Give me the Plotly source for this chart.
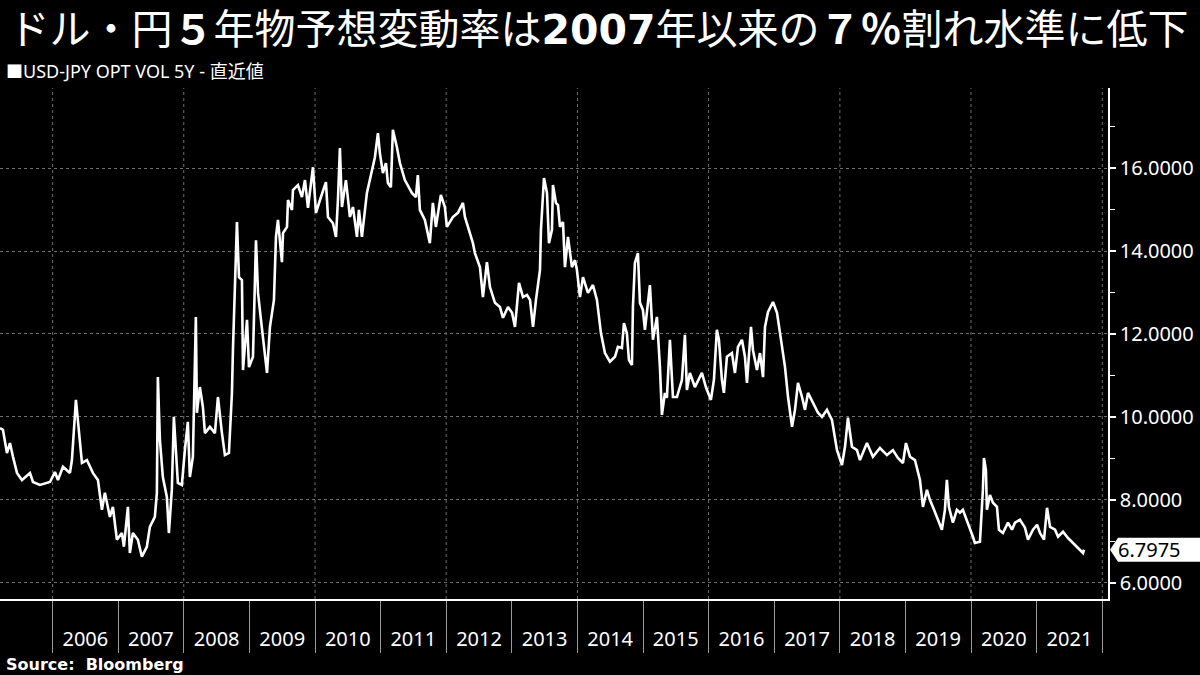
import datetime as dt
import plotly.graph_objects as go

# ---------------- data ----------------
# time as decimal years, value = USD-JPY 5Y option implied volatility
t_year = [
    2005.197, 2005.242, 2005.303, 2005.349, 2005.395, 2005.456, 2005.532, 2005.654, 2005.700, 2005.806,
    2005.959, 2006.035, 2006.081, 2006.157, 2006.264, 2006.294, 2006.355, 2006.386, 2006.447, 2006.523,
    2006.569, 2006.614, 2006.691, 2006.752, 2006.797, 2006.873, 2006.919, 2006.980, 2007.056, 2007.087,
    2007.148, 2007.178, 2007.224, 2007.300, 2007.361, 2007.437, 2007.483, 2007.559, 2007.590, 2007.605,
    2007.636, 2007.681, 2007.742, 2007.773, 2007.818, 2007.849, 2007.910, 2007.971, 2008.017, 2008.062,
    2008.093, 2008.139, 2008.184, 2008.200, 2008.245, 2008.291, 2008.322, 2008.398, 2008.474, 2008.520,
    2008.581, 2008.626, 2008.687, 2008.733, 2008.748, 2008.779, 2008.809, 2008.840, 2008.885, 2008.901,
    2008.962, 2008.992, 2009.053, 2009.099, 2009.130, 2009.175, 2009.267, 2009.312, 2009.373, 2009.404,
    2009.434, 2009.495, 2009.511, 2009.572, 2009.587, 2009.648, 2009.663, 2009.739, 2009.800, 2009.846,
    2009.892, 2009.968, 2010.014,
    2010.075, 2010.120, 2010.166, 2010.197, 2010.273, 2010.319, 2010.349, 2010.379, 2010.410, 2010.471,
    2010.532, 2010.578, 2010.639, 2010.669, 2010.715, 2010.791, 2010.867, 2010.913, 2010.959, 2010.989,
    2011.035, 2011.081, 2011.111, 2011.157, 2011.187, 2011.248, 2011.294, 2011.370, 2011.477, 2011.538,
    2011.568, 2011.599, 2011.675, 2011.751, 2011.797, 2011.843, 2011.919, 2011.980, 2012.011, 2012.102,
    2012.178, 2012.255, 2012.285, 2012.361, 2012.407,
    2012.437, 2012.514, 2012.559, 2012.620, 2012.666, 2012.742, 2012.818, 2012.864, 2012.940, 2013.002,
    2013.047, 2013.108, 2013.169, 2013.230, 2013.276, 2013.322, 2013.367, 2013.428, 2013.443, 2013.489,
    2013.535, 2013.565, 2013.611, 2013.626, 2013.672, 2013.703, 2013.733, 2013.779, 2013.809, 2013.855,
    2013.916, 2013.962, 2013.992, 2014.038, 2014.084, 2014.160, 2014.236, 2014.297, 2014.358, 2014.419,
    2014.495, 2014.572, 2014.617, 2014.678, 2014.709, 2014.754, 2014.785, 2014.831, 2014.846,
    2014.876, 2014.922, 2014.953, 2014.998, 2015.029, 2015.075, 2015.105, 2015.151, 2015.212, 2015.258,
    2015.288, 2015.334, 2015.364, 2015.410, 2015.456, 2015.517, 2015.593, 2015.639, 2015.669, 2015.715,
    2015.791, 2015.898, 2015.959, 2016.035, 2016.081, 2016.126, 2016.157, 2016.203, 2016.233, 2016.279,
    2016.355, 2016.401, 2016.447, 2016.507, 2016.553, 2016.584, 2016.645, 2016.675, 2016.736, 2016.782,
    2016.828, 2016.858, 2016.904, 2016.980, 2017.041, 2017.087, 2017.163, 2017.209, 2017.270,
    2017.315, 2017.361, 2017.422, 2017.468, 2017.514, 2017.590, 2017.666, 2017.727, 2017.803, 2017.879,
    2017.956, 2018.032, 2018.078, 2018.123, 2018.184, 2018.261, 2018.306, 2018.413, 2018.504, 2018.611,
    2018.718, 2018.809, 2018.885, 2018.962, 2019.008, 2019.069, 2019.145, 2019.221, 2019.267, 2019.328,
    2019.373, 2019.419, 2019.495, 2019.556, 2019.602, 2019.632, 2019.663, 2019.724, 2019.785,
    2019.831, 2019.876, 2019.953, 2020.029, 2020.059, 2020.136, 2020.181, 2020.197, 2020.227, 2020.242,
    2020.288, 2020.334, 2020.395, 2020.425, 2020.486, 2020.562, 2020.623, 2020.669, 2020.745, 2020.821,
    2020.867, 2020.943, 2021.005, 2021.050, 2021.111, 2021.157, 2021.203, 2021.279, 2021.325, 2021.401,
    2021.477, 2021.553, 2021.629, 2021.706, 2021.721,
]
vol = [
    9.73, 9.69, 9.13, 9.37, 9.04, 8.65, 8.48, 8.65, 8.43, 8.36,
    8.43, 8.67, 8.48, 8.80, 8.65, 8.96, 10.41, 9.86, 8.89, 8.96,
    8.80, 8.65, 8.48, 7.76, 8.17, 7.59, 7.83, 7.04, 7.20, 6.87,
    7.83, 6.72, 7.20, 7.04, 6.63, 6.87, 7.35, 7.59, 8.17, 10.96,
    9.45, 8.55, 8.07, 7.20, 8.24, 10.00, 8.41, 8.36, 9.20, 9.88,
    8.55, 9.04, 12.41, 10.10, 10.72, 10.24, 9.61, 9.76, 9.61, 10.48,
    9.61, 9.08, 9.13, 10.58, 11.61, 13.30, 14.70, 13.37, 13.30, 11.13,
    12.34, 11.20, 11.45, 14.26, 12.99, 12.34, 11.06, 12.17, 12.82, 14.34,
    14.75, 13.73, 14.43, 14.58, 15.23, 14.99, 15.47, 15.59, 15.30, 15.71,
    15.04, 16.02, 14.92,
    15.23, 15.47, 15.66, 14.82, 14.67, 14.34, 15.23, 16.48, 15.06, 15.71,
    14.82, 15.06, 14.34, 14.99, 14.34, 15.40, 15.95, 16.26, 16.84, 16.36,
    15.88, 16.12, 15.64, 15.54, 16.92, 16.51, 16.12, 15.71, 15.40, 15.30,
    15.83, 14.99, 14.75, 14.19, 15.16, 14.58, 15.35, 15.06, 14.58, 14.82,
    14.92, 15.16, 14.82, 14.43, 14.19,
    13.95, 13.61, 12.89, 13.73, 13.13, 12.75, 12.65, 12.39, 12.65, 12.51,
    12.17, 13.23, 12.89, 12.94, 12.82, 12.17, 12.82, 13.54, 14.51, 15.76,
    15.40, 14.19, 14.51, 15.59, 15.16, 15.11, 14.58, 14.70, 13.61, 14.34,
    13.61, 13.78, 13.54, 12.89, 13.37, 12.99, 13.18, 12.82, 12.02, 11.54,
    11.33, 11.45, 11.69, 11.66, 12.26, 12.02, 11.37, 11.25, 12.65,
    13.71, 13.95, 12.75, 12.58, 12.10, 12.75, 13.18, 11.86, 12.41, 11.20,
    10.05, 10.58, 10.46, 11.86, 10.48, 10.48, 10.89, 11.98, 10.65, 11.06,
    10.72, 11.06, 10.72, 10.41, 10.89, 12.10, 11.86, 10.89, 10.58, 11.45,
    11.54, 11.06, 11.69, 11.86, 11.45, 10.82, 12.17, 11.61, 11.13, 11.54,
    10.96, 12.17, 12.53, 12.77, 12.51, 12.02, 11.20, 10.48, 9.76,
    10.17, 10.82, 10.48, 10.17, 10.58, 10.34, 10.10, 10.00, 10.17, 9.93,
    9.20, 8.84, 9.28, 9.98, 9.28, 9.20, 8.96, 9.37, 9.04, 9.25,
    9.08, 9.20, 9.01, 8.89, 9.37, 9.04, 8.96, 8.48, 7.83, 8.24,
    8.00, 7.83, 7.52, 7.28, 7.76, 8.48, 7.83, 7.45, 7.76,
    7.69, 7.76, 7.45, 7.11, 6.96, 6.99, 8.24, 9.01, 8.72, 7.76,
    8.12, 7.93, 7.83, 7.28, 7.20, 7.45, 7.28, 7.45, 7.52, 7.33,
    7.04, 7.28, 7.40, 7.20, 7.04, 7.81, 7.35, 7.28, 7.11, 7.23,
    7.08, 6.96, 6.84, 6.72, 6.7975,
]

year_labels = [str(y) for y in range(2006, 2022)]
year_starts = list(range(2006, 2023))
grid_years = list(range(2006, 2023, 2))
y_major = [6, 8, 10, 12, 14, 16]
y_minor = [7, 9, 11, 13, 15, 17]

TITLE = ("ドル・円<b>５</b>年物予想変動率は"
         "<span style='font-family:DejaVu Sans'><b>2007</b></span>"
         "年以来の<b>７％</b>割れ水準に低下")
SERIES = "USD-JPY OPT VOL 5Y - 直近値"
SOURCE = "Source:  Bloomberg"


def dec_to_date(t):
    y = int(t)
    start = dt.datetime(y, 1, 1)
    end = dt.datetime(y + 1, 1, 1)
    return start + (end - start) * (t - y)


dates = [dec_to_date(t) for t in t_year]

fig = go.Figure()
fig.add_trace(go.Scatter(
    x=dates, y=vol, mode="lines", name=SERIES,
    line=dict(color="white", width=2.6), showlegend=False,
    hovertemplate="%{x|%Y-%m-%d}: %{y:.4f}<extra></extra>",
))

GRID = "#6f6f6f"
shapes = []
for gy in grid_years:
    shapes.append(dict(
        type="line", xref="x", yref="paper",
        x0=dt.datetime(gy, 1, 1), x1=dt.datetime(gy, 1, 1), y0=0, y1=1,
        line=dict(color=GRID, width=1, dash="3px,3px"), layer="below",
    ))

last_val = vol[-1]
# last-value tag (arrow + box) anchored on right edge of plot at last value
shapes.append(dict(
    type="path", xref="paper", yref="y",
    xsizemode="pixel", ysizemode="pixel", xanchor=1, yanchor=last_val,
    path="M 2,0 L 10,12 L 92,12 L 92,-12 L 10,-12 Z",
    fillcolor="white", line=dict(width=0), layer="above",
))

fig.update_layout(
    width=1200, height=675,
    paper_bgcolor="black", plot_bgcolor="black",
    margin=dict(l=0, r=92, t=88, b=76),
    font=dict(family="Noto Sans, Noto Sans CJK JP", color="white", size=20),
    title=dict(
        text=TITLE, x=0.007, xanchor="left", xref="container",
        y=1 - 30 / 675, yanchor="middle", yref="container",
        font=dict(family="Noto Sans CJK JP", size=41, color="white"),
    ),
    xaxis=dict(
        type="date",
        range=[dec_to_date(2005.197), dec_to_date(2022.087)],
        tickmode="array",
        tickvals=[dt.datetime(int(y), 7, 2) for y in year_labels],
        ticktext=year_labels,
        ticks="", showgrid=False, zeroline=False,
        showline=True, linecolor="white", linewidth=1.5,
        tickfont=dict(family="Noto Sans", size=20, color="white"),
        ticklabelstandoff=21,
        minor=dict(
            tickmode="array",
            tickvals=[dt.datetime(y, 1, 1) for y in year_starts],
            ticks="outside", ticklen=52, tickwidth=1, tickcolor="#9a9a9a",
            showgrid=False,
        ),
    ),
    yaxis=dict(
        side="right", range=[5.61, 17.93],
        tickmode="array", tickvals=y_major, tickformat=".4f",
        ticks="outside", ticklen=6, tickwidth=2, tickcolor="white",
        showline=True, linecolor="white", linewidth=1.5,
        showgrid=True, gridcolor=GRID, gridwidth=1, griddash="3px,3px",
        zeroline=False,
        tickfont=dict(family="Noto Sans", size=20, color="white"),
        minor=dict(
            tickmode="array", tickvals=y_minor,
            ticks="outside", ticklen=5, tickwidth=1, tickcolor="white",
            showgrid=False,
        ),
    ),
    shapes=shapes,
    annotations=[
        dict(
            text="<span style='font-size:17px'>■</span>" + SERIES,
            xref="paper", yref="paper", x=0.004, y=(599 - 71) / 511,
            xanchor="left", yanchor="middle", showarrow=False,
            font=dict(family="Noto Sans, Noto Sans CJK JP", size=18, color="white"),
        ),
        dict(
            text="<b>" + SOURCE + "</b>",
            xref="paper", yref="paper", x=0.004, y=(599 - 664) / 511,
            xanchor="left", yanchor="middle", showarrow=False,
            font=dict(family="DejaVu Sans", size=16, color="white"),
        ),
        dict(
            text=f"{last_val:.4f}",
            xref="paper", yref="y", x=1, y=last_val,
            xanchor="left", yanchor="middle", xshift=8, showarrow=False,
            font=dict(family="Noto Sans", size=20, color="black"),
        ),
    ],
)

fig.write_html(
    "out.html",
    config={"displayModeBar": False},
    post_script="document.body.style.margin='0px';document.body.style.overflow='hidden';",
)
